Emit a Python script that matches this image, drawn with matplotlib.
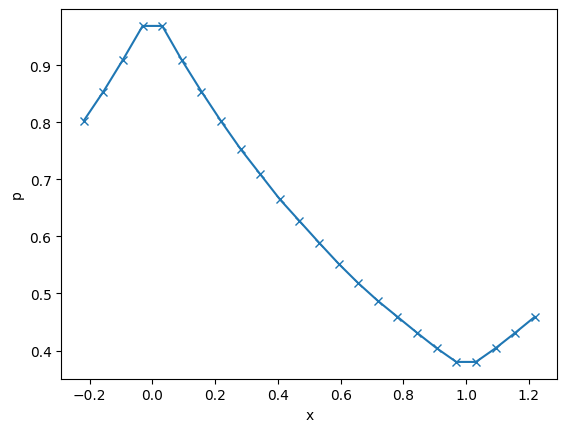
import matplotlib
matplotlib.use("Agg")
import matplotlib.pyplot as plt

x = [-0.21875, -0.15625, -0.09375, -0.03125, 0.03125, 0.09375, 0.15625, 0.21875,
     0.28125, 0.34375, 0.40625, 0.46875, 0.53125, 0.59375, 0.65625, 0.71875,
     0.78125, 0.84375, 0.90625, 0.96875, 1.03125, 1.09375, 1.15625, 1.21875]
p = [0.803, 0.854, 0.910, 0.969, 0.969, 0.909, 0.854, 0.802,
     0.753, 0.709, 0.665, 0.627, 0.589, 0.552, 0.518, 0.487,
     0.459, 0.431, 0.404, 0.380, 0.380, 0.404, 0.431, 0.459]

fig, ax = plt.subplots(figsize=(6.4, 4.8), dpi=100)
ax.plot(x, p, marker='x')
ax.set_xlabel('x')
ax.set_ylabel('p')
fig.savefig('out.png', bbox_inches='tight')
